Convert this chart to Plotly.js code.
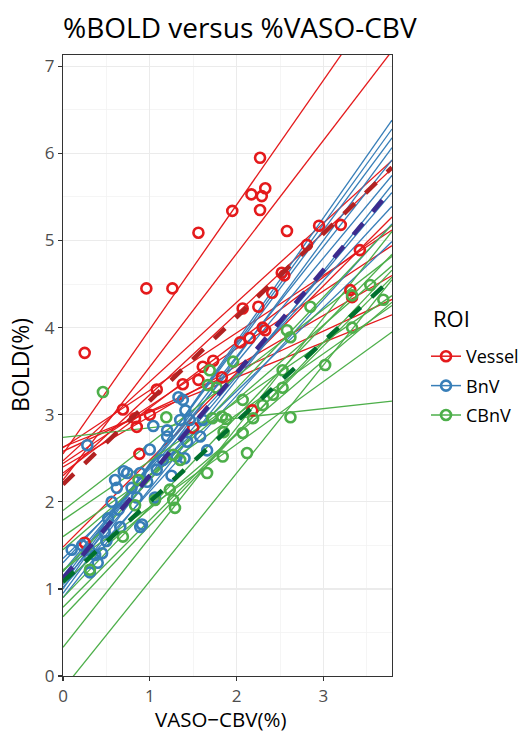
<!DOCTYPE html>
<html><head><meta charset="utf-8">
<script src="https://cdn.plot.ly/plotly-3.0.1.min.js"></script>
<style>html,body{margin:0;padding:0;background:#fff}#chart{width:528px;height:732px}</style>
</head><body><div id="chart"></div>
<script>
// ---- data ----
const roiNames = ["Vessel", "BnV", "CBnV"];
const xMax = 3.79;

const vesselX = [0.25,0.96,1.26,1.56,1.95,2.27,2.17,2.33,2.29,2.27,2.58,2.95,3.20,2.81,3.42,2.52,2.55,2.41,2.07,2.25,2.30,2.33,2.04,2.15,3.31,3.33,1.73,1.61,1.56,1.83,1.38,1.08,1.00,0.85,0.69,0.83,1.50,2.18,0.88,0.25];
const vesselY = [3.71,4.45,4.45,5.09,5.34,5.95,5.53,5.60,5.51,5.35,5.11,5.17,5.18,4.95,4.89,4.63,4.60,4.40,4.22,4.24,4.00,3.97,3.83,3.88,4.43,4.35,3.62,3.55,3.40,3.43,3.35,3.29,3.00,2.86,3.06,2.96,2.85,3.05,2.55,1.53];

const bnvX = [0.10,0.28,0.37,0.45,0.40,0.31,0.52,0.66,0.60,0.62,0.74,0.56,0.64,0.89,0.79,0.97,0.89,1.08,1.15,1.31,1.20,1.43,1.58,1.66,1.06,0.91,1.33,1.38,1.04,1.20,1.41,1.35,1.46,1.61,0.30,0.50,0.70,0.85,1.00,1.25,1.40,0.48,0.22];
const bnvY = [1.45,2.65,1.39,1.41,1.30,1.19,1.81,1.71,2.25,2.16,2.33,2.00,1.91,1.71,2.16,2.23,2.33,2.37,2.48,2.52,2.75,2.69,2.75,2.59,2.05,1.74,3.20,3.17,2.87,2.82,3.05,2.94,2.94,2.94,1.45,1.55,2.35,2.05,2.60,2.30,2.50,1.65,1.50];

const cbnvX = [0.46,1.19,1.69,1.67,1.77,1.72,1.83,1.96,0.87,0.69,0.83,1.06,1.23,1.27,1.29,1.27,1.35,1.66,1.84,0.31,2.85,2.58,2.62,2.53,3.02,3.33,3.33,3.54,3.69,2.07,2.53,2.42,2.30,2.19,2.62,2.07,2.12,1.85,1.88];
const cbnvY = [3.26,2.97,3.51,3.34,3.31,2.96,2.98,3.61,2.25,1.60,1.96,2.02,2.14,2.02,1.93,2.54,2.48,2.33,2.52,1.22,4.24,3.97,3.89,3.51,3.57,4.00,4.37,4.49,4.32,3.17,3.31,3.23,3.11,2.96,2.97,2.79,2.56,2.80,2.95];

// per-subject regression lines (intercept, slope)
const vesselInt   = [2.55,2.25,2.47,2.30,2.58,2.40,2.62,2.44,1.48,2.33,2.63];
const vesselSlope = [1.43,1.30,0.91,0.93,0.46,0.58,0.66,0.66,1.00,0.75,0.40];
const bnvInt      = [1.00,1.05,1.10,0.95,1.15,1.20,1.08,1.30,1.02,1.35,0.90];
const bnvSlope    = [1.42,1.38,1.34,1.35,1.26,1.20,1.18,1.08,1.10,0.96,1.25];
const cbnvInt     = [2.74,1.22,-0.15,0.33,0.68,0.79,0.90,1.07,1.60,1.79,1.90,1.20,1.45];
const cbnvSlope   = [0.11,0.72,1.24,1.26,1.05,1.00,1.04,0.85,0.70,0.68,0.77,1.05,0.86];

// group mean lines
const meanInt   = [2.20, 1.12, 1.08];
const meanSlope = [0.96, 1.18, 0.92];

// ---- styles ----
const colors = ["#E41A1C", "#377EB8", "#4DAF4A"];
const meanColors = ["#B22222", "#3D2B8E", "#00702E"];
const FONT = "Open Sans, sans-serif";

const traces = [];
const pts = [[vesselX, vesselY], [bnvX, bnvY], [cbnvX, cbnvY]];
const ints = [vesselInt, bnvInt, cbnvInt];
const slopes = [vesselSlope, bnvSlope, cbnvSlope];

for (let g = 0; g < 3; g++) {
  for (let i = 0; i < ints[g].length; i++) {
    const a = ints[g][i], b = slopes[g][i];
    traces.push({x: [0, xMax], y: [a, a + b * xMax], mode: "lines", type: "scatter",
      line: {color: colors[g], width: 1.3}, showlegend: false, hoverinfo: "skip"});
  }
}
for (let g = 0; g < 3; g++) {
  traces.push({x: pts[g][0], y: pts[g][1], mode: "markers", type: "scatter",
    marker: {symbol: "circle-open", size: 10, color: colors[g], line: {width: 2.6, color: colors[g]}},
    showlegend: false});
}
for (let g = 0; g < 3; g++) {
  const a = meanInt[g], b = meanSlope[g];
  traces.push({x: [0, xMax], y: [a, a + b * xMax], mode: "lines", type: "scatter",
    line: {color: meanColors[g], width: 4.5, dash: "15px,15px"}, showlegend: false, hoverinfo: "skip"});
}
for (let g = 0; g < 3; g++) {
  traces.push({x: [null], y: [null], mode: "lines+markers", type: "scatter", name: roiNames[g],
    legendgroup: roiNames[g],
    line: {color: colors[g], width: 1.5},
    marker: {symbol: "circle-open", size: 10, color: colors[g], line: {width: 2.6, color: colors[g]}}});
}

const axisCommon = {
  showline: true, mirror: true, linecolor: "#333333", linewidth: 1.2,
  ticks: "outside", ticklen: 4, tickwidth: 1.3, tickcolor: "#333333",
  showgrid: true, gridcolor: "#EBEBEB", gridwidth: 1.3, zeroline: false,
  tickfont: {family: FONT, size: 17, color: "#4D4D4D"},
  minor: {dtick: 0.5, showgrid: true, gridcolor: "#F2F2F2", gridwidth: 0.8, ticks: ""},
  automargin: false
};

const layout = {
  width: 528, height: 732,
  margin: {l: 63, r: 136, t: 55, b: 56},
  paper_bgcolor: "#ffffff", plot_bgcolor: "#ffffff",
  font: {family: FONT, color: "#000"},
  title: {text: "%BOLD versus %VASO-CBV", x: 63/528, xanchor: "left", xref: "container",
    y: 1 - 28/732, yanchor: "middle", yref: "container", automargin: false,
    font: {family: FONT, size: 28, color: "#000"}},
  xaxis: Object.assign({}, axisCommon, {range: [0, xMax], dtick: 1, tick0: 0}),
  yaxis: Object.assign({}, axisCommon, {range: [0, 7.13], dtick: 1, tick0: 0}),
  annotations: [
    {text: "VASO\u2212CBV(%)", xref: "paper", yref: "paper", x: (221 - 63) / 329, y: (676 - 719) / 621,
     xanchor: "center", yanchor: "middle", showarrow: false, font: {family: FONT, size: 20.5, color: "#000"}},
    {text: "BOLD(%)", xref: "paper", yref: "paper", x: (20 - 63) / 329, y: (676 - 365) / 621,
     xanchor: "center", yanchor: "middle", textangle: -90, showarrow: false, font: {family: FONT, size: 23, color: "#000"}},
    {text: "ROI", xref: "paper", yref: "paper", x: (431 - 63) / 329, y: (676 - 318) / 621,
     xanchor: "left", yanchor: "middle", showarrow: false, font: {family: FONT, size: 22, color: "#000"}}
  ],
  showlegend: true,
  legend: {xref: "container", yref: "container", x: 426 / 528, xanchor: "left", y: 1 - 338 / 732, yanchor: "top",
    font: {family: FONT, size: 18, color: "#000"},
    bgcolor: "rgba(0,0,0,0)", itemwidth: 30, tracegroupgap: 3}
};

Plotly.newPlot("chart", traces, layout, {staticPlot: true, displayModeBar: false});
</script>
</body></html>
